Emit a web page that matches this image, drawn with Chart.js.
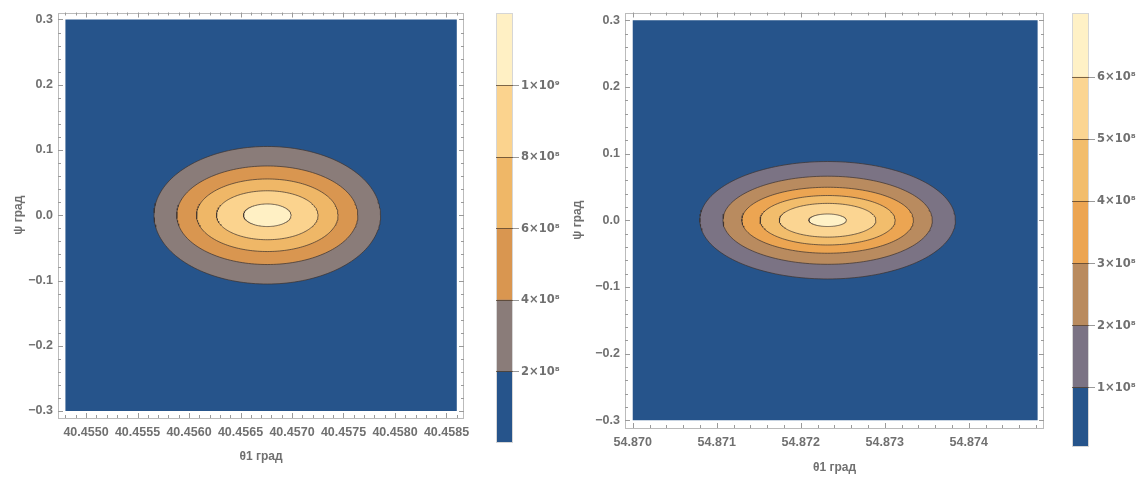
<!DOCTYPE html>
<html>
<head>
<meta charset="utf-8">
<script src="https://cdn.jsdelivr.net/npm/chart.js"></script>
<style>
  html, body { margin: 0; padding: 0; background: #fff; }
  #wrap { position: relative; width: 1146px; height: 477px; }
  canvas { position: absolute; top: 0; }
</style>
</head>
<body>
<div id="wrap">
  <canvas id="plotL" width="480" height="477" style="left:0"></canvas>
  <canvas id="barL" width="80" height="477" style="left:480px"></canvas>
  <canvas id="plotR" width="490" height="477" style="left:560px"></canvas>
  <canvas id="barR" width="96" height="477" style="left:1050px"></canvas>
</div>
<script>
// ---- left plot data ----
const leftXTicks = [40.4550, 40.4555, 40.4560, 40.4565, 40.4570, 40.4575, 40.4580, 40.4585];
const leftXLabels = ['40.4550', '40.4555', '40.4560', '40.4565', '40.4570', '40.4575', '40.4580', '40.4585'];
const leftXRange = [40.454728, 40.458670];
const leftYRange = [-0.3107, 0.3107];
const leftDomainX = [40.4548, 40.4586];
const leftDomainY = [-0.3, 0.3];
const leftCenter = [40.45676, 0];
const leftLevels = [2e8, 4e8, 6e8, 8e8, 1e9];
const leftLevelLabels = ['2×10⁸', '4×10⁸', '6×10⁸', '8×10⁸', '1×10⁹'];
const leftSemiX = [0.00110, 0.000879, 0.000687, 0.000493, 0.000231];
const leftSemiY = [0.1054, 0.0755, 0.0556, 0.0375, 0.0173];
const leftColors = ['#26548b', '#8a7c79', '#d99650', '#efb767', '#fbd38e', '#fff0c4'];
const leftBarRange = [0, 1.204e9];

// ---- right plot data ----
const rightXTicks = [54.870, 54.871, 54.872, 54.873, 54.874];
const rightXLabels = ['54.870', '54.871', '54.872', '54.873', '54.874'];
const rightXRange = [54.869908, 54.874896];
const rightYRange = [-0.3117, 0.3117];
const rightDomainX = [54.8700, 54.87482];
const rightDomainY = [-0.3, 0.3];
const rightCenter = [54.87232, 0];
const rightLevels = [1e8, 2e8, 3e8, 4e8, 5e8, 6e8];
const rightLevelLabels = ['1×10⁸', '2×10⁸', '3×10⁸', '4×10⁸', '5×10⁸', '6×10⁸'];
const rightSemiX = [0.001521, 0.001246, 0.001021, 0.000804, 0.000575, 0.000223];
const rightSemiY = [0.0881, 0.0661, 0.0495, 0.0371, 0.0253, 0.0094];
const rightColors = ['#26548b', '#7b7384', '#b98b5f', '#eca552', '#f2bd6c', '#fbd592', '#fff1c6'];
const rightBarRange = [5e6, 7.03e8];

// shared y ticks
const yTicks = [-0.3, -0.2, -0.1, 0, 0.1, 0.2, 0.3];
const yLabels = ['\u22120.3', '\u22120.2', '\u22120.1', '0.0', '0.1', '0.2', '0.3'];

const FONT = { family: "'Liberation Sans', Arial, sans-serif", size: 12.5, weight: 'bold' };
const BAR_FONT = { family: "'DejaVu Sans', 'Liberation Sans', sans-serif", size: 11.5, weight: 'bold' };
const TITLE_FONT = { family: "'Liberation Sans', Arial, sans-serif", size: 12, weight: 'bold' };
const TXT = '#707070';

function ellipsePts(cx, cy, rx, ry) {
  const pts = [];
  for (let i = 0; i <= 180; i++) {
    const t = i / 180 * 2 * Math.PI;
    pts.push({ x: cx + rx * Math.cos(t), y: cy + ry * Math.sin(t) });
  }
  return pts;
}

// frame with inward ticks, like the Mathematica frame
function tickVals(major, min, max, sub) {
  const step = (major[1] - major[0]) / sub;
  const out = [];
  const i0 = Math.ceil((min - major[0]) / step - 1e-9);
  const i1 = Math.floor((max - major[0]) / step + 1e-9);
  for (let i = i0; i <= i1; i++) out.push({ v: major[0] + i * step, major: i % sub === 0 });
  return out;
}

const framePlugin = {
  id: 'frame',
  afterDatasetsDraw(chart, args, o) {
    const { ctx, chartArea: a } = chart;
    ctx.save();
    ctx.lineWidth = 1;
    ctx.strokeStyle = o.color || '#bbb';
    ctx.strokeRect(Math.round(a.left) + 0.5, Math.round(a.top) + 0.5, Math.round(a.width) - 1, Math.round(a.height) - 1);
    if (o.xMajor) {
      const sx = chart.scales.x, sy = chart.scales.y;
      ctx.strokeStyle = '#9a9a9a';
      ctx.beginPath();
      tickVals(o.xMajor, sx.min, sx.max, 5).forEach(t => {
        const p = Math.round(sx.getPixelForValue(t.v)) + 0.5, len = t.major ? 5 : 3;
        ctx.moveTo(p, a.bottom); ctx.lineTo(p, a.bottom - len);
        ctx.moveTo(p, a.top); ctx.lineTo(p, a.top + len);
      });
      tickVals(o.yMajor, sy.min, sy.max, 5).forEach(t => {
        const p = Math.round(sy.getPixelForValue(t.v)) + 0.5, len = t.major ? 5 : 3;
        ctx.moveTo(a.left, p); ctx.lineTo(a.left + len, p);
        ctx.moveTo(a.right, p); ctx.lineTo(a.right - len, p);
      });
      ctx.stroke();
    }
    ctx.restore();
  }
};

function makePlot(id, p) {
  const [dx0, dx1] = p.domainX, [dy0, dy1] = p.domainY;
  const datasets = [{
    data: [{ x: dx0, y: dy0 }, { x: dx1, y: dy0 }, { x: dx1, y: dy1 }, { x: dx0, y: dy1 }, { x: dx0, y: dy0 }],
    backgroundColor: p.colors[0], borderColor: 'transparent', borderWidth: 0,
    fill: 'shape', pointRadius: 0, order: 100
  }];
  p.semiX.forEach((rx, k) => {
    datasets.push({
      data: ellipsePts(p.center[0], p.center[1], rx, p.semiY[k]),
      backgroundColor: p.colors[k + 1], borderColor: 'rgba(60,50,45,0.7)', borderWidth: 1,
      fill: 'shape', pointRadius: 0, order: 50 - k
    });
  });
  return new Chart(document.getElementById(id), {
    type: 'line',
    data: { datasets },
    plugins: [framePlugin],
    options: {
      responsive: false, animation: false, events: [],
      layout: { padding: p.pad },
      plugins: { legend: { display: false }, tooltip: { enabled: false },
        frame: { xMajor: p.xTicks, yMajor: yTicks } },
      scales: {
        x: {
          type: 'linear', min: p.xRange[0], max: p.xRange[1],
          afterBuildTicks: s => { s.ticks = p.xTicks.map(v => ({ value: v })); },
          afterFit: s => { s.height = p.xAxisH; },
          grid: { display: false, drawTicks: false }, border: { display: false },
          ticks: { font: FONT, color: TXT, padding: 7, maxRotation: 0, autoSkip: false,
            callback: (v, i) => p.xLabels[i] },
          title: { display: true, text: 'θ1 град', font: TITLE_FONT, color: TXT,
            padding: { top: 0, bottom: p.xTitlePad } }
        },
        y: {
          type: 'linear', min: p.yRange[0], max: p.yRange[1],
          afterBuildTicks: s => { s.ticks = yTicks.map(v => ({ value: v })); },
          afterFit: s => { s.width = p.yAxisW; },
          grid: { display: false, drawTicks: false }, border: { display: false },
          ticks: { font: FONT, color: TXT, padding: 5, autoSkip: false,
            callback: (v, i) => yLabels[i] },
          title: { display: true, text: 'ψ град', font: TITLE_FONT, color: TXT,
            padding: { top: p.yTitlePad, bottom: 0 } }
        }
      }
    }
  });
}

function makeBar(id, levels, labels, colors, range, b) {
  const edges = [range[0], ...levels, range[1]];
  const datasets = colors.map((c, k) => ({
    data: [[edges[k], edges[k + 1]]], backgroundColor: c, borderWidth: 0,
    barPercentage: 1, categoryPercentage: 1, grouped: false
  }));
  return new Chart(document.getElementById(id), {
    type: 'bar',
    data: { labels: [''], datasets },
    plugins: [framePlugin],
    options: {
      responsive: false, animation: false, events: [],
      layout: { padding: b.pad },
      plugins: { legend: { display: false }, tooltip: { enabled: false }, frame: { color: '#d6d6d6' } },
      scales: {
        x: { display: false },
        y: {
          position: 'right', min: range[0], max: range[1],
          afterBuildTicks: s => { s.ticks = levels.map(v => ({ value: v })); },
          afterFit: s => { s.width = b.axisW; },
          border: { display: false },
          grid: { z: 1, color: 'rgba(80,60,40,0.75)', tickColor: '#9a9a9a', tickLength: 6, lineWidth: 1 },
          ticks: { font: BAR_FONT, color: TXT, padding: 2, callback: (v, i) => labels[i] }
        }
      }
    }
  });
}

makePlot('plotL', {
  xTicks: leftXTicks, xLabels: leftXLabels, xRange: leftXRange, yRange: leftYRange,
  domainX: leftDomainX, domainY: leftDomainY, center: leftCenter,
  semiX: leftSemiX, semiY: leftSemiY, colors: leftColors,
  pad: { left: 0, top: 12, right: 16, bottom: 0 }, yAxisW: 58, xAxisH: 59,
  xTitlePad: 13, yTitlePad: 11
});
makeBar('barL', leftLevels, leftLevelLabels, leftColors, leftBarRange,
  { pad: { left: 16, top: 13, right: 0, bottom: 34 }, axisW: 47 });

makePlot('plotR', {
  xTicks: rightXTicks, xLabels: rightXLabels, xRange: rightXRange, yRange: rightYRange,
  domainX: rightDomainX, domainY: rightDomainY, center: rightCenter,
  semiX: rightSemiX, semiY: rightSemiY, colors: rightColors,
  pad: { left: 0, top: 8, right: 6, bottom: 0 }, yAxisW: 65, xAxisH: 49,
  xTitlePad: 2, yTitlePad: 10
});
makeBar('barR', rightLevels, rightLevelLabels, rightColors, rightBarRange,
  { pad: { left: 22, top: 13, right: 0, bottom: 30 }, axisW: 57 });
</script>
</body>
</html>
